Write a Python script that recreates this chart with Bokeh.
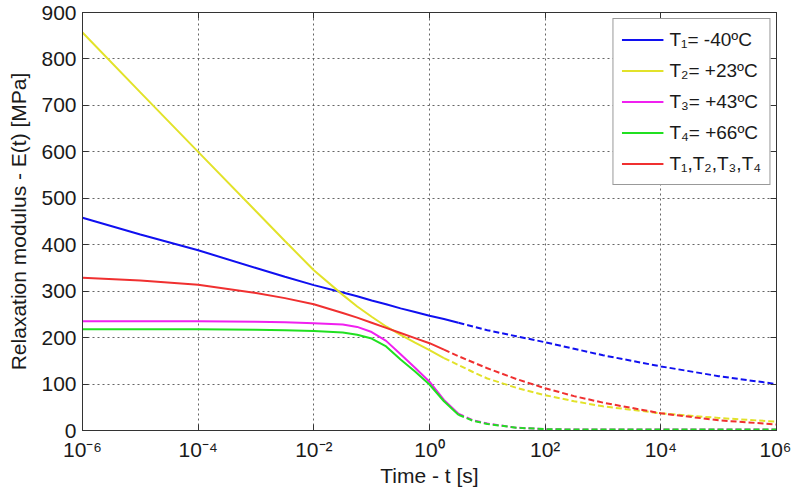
import numpy as np
from bokeh.plotting import figure
from bokeh.models import (LogAxis, LinearAxis, FixedTicker, CustomJSTickFormatter,
                          Legend, LegendItem, Range1d)
from bokeh.embed import file_html
from bokeh.resources import INLINE

# ---- data ----
log_time = [-6, -5, -4, -3, -2.5, -2, -1.5, -1.25, -1, -0.75, -0.5, -0.25, 0,
            0.25, 0.5, 0.75, 1, 1.5, 2, 2.5, 3, 4, 5, 6]
E_T1 = [458, 422, 388, 350, 331, 313, 297, 289, 280, 272, 263, 255, 247,
        240, 232, 224, 216, 203, 190, 176, 162, 138, 117, 100]
E_T2 = [857, 728, 600, 472, 408, 345, 292, 267, 245, 224, 206, 189, 173,
        156, 141, 126, 112, 92, 76, 63, 52, 37, 27, 19]
E_T3 = [235, 235, 235, 234, 233, 231, 228, 223, 212, 193, 164, 135, 105,
        66, 36, 22, 15, 6, 3, 2, 2, 2, 2, 2]
E_T4 = [218, 218, 218, 217, 216, 214, 211, 206, 198, 181, 153, 127, 99,
        63, 34, 21, 14, 6, 3, 2, 2, 2, 2, 2]
E_all = [329, 323, 314, 296, 285, 272, 253, 243, 232, 221, 210, 199, 188,
         174, 160, 147, 134, 111, 91, 74, 60, 37, 22, 13]
series = [E_T1, E_T2, E_T3, E_T4, E_all]
series_labels = ["T\u2081= -40\u00baC", "T\u2082= +23\u00baC", "T\u2083= +43\u00baC",
                 "T\u2084= +66\u00baC", "T\u2081,T\u2082,T\u2083,T\u2084"]
solid_until = [0.5, 0.25, 0.5, 0.5, 0.25]
colors = ["#1010f0", "#e2e22a", "#f020f0", "#20e020", "#f03030"]
y_ticks = [0, 100, 200, 300, 400, 500, 600, 700, 800, 900]
x_ticks = [1e-6, 1e-4, 1e-2, 1e0, 1e2, 1e4, 1e6]

FONT = "Liberation Sans"

p = figure(width=791, height=489, x_axis_type="log",
           x_range=Range1d(1e-6, 1e6), y_range=Range1d(0, 900),
           output_backend="svg", toolbar_location=None,
           min_border_left=82, min_border_right=15, min_border_top=12,
           min_border_bottom=58, background_fill_color="white",
           border_fill_color="white")
p.outline_line_color = "#333333"

fmt = CustomJSTickFormatter(code="""
const sup = {"-":"\\u207b","0":"\\u2070","1":"\\u00b9","2":"\\u00b2","3":"\\u00b3",
             "4":"\\u2074","5":"\\u2075","6":"\\u2076","7":"\\u2077","8":"\\u2078","9":"\\u2079"};
const e = Math.round(Math.log10(tick));
return "10" + String(e).split("").map(c => sup[c]).join("");
""")

xa = p.xaxis[0]
xa.ticker = FixedTicker(ticks=x_ticks)
xa.formatter = fmt
xa.axis_label = "Time - t [s]"
ya = p.yaxis[0]
ya.ticker = FixedTicker(ticks=y_ticks)
ya.axis_label = "Relaxation modulus - E(t) [MPa]"
for ax in (xa, ya):
    ax.major_label_text_font = FONT
    ax.major_label_text_font_size = "21px"
    ax.major_label_text_color = "#1a1a1a"
    ax.axis_label_text_font = FONT
    ax.axis_label_text_font_size = "21px"
    ax.axis_label_text_font_style = "normal"
    ax.axis_label_text_color = "#1a1a1a"
    ax.major_tick_in = 6
    ax.major_tick_out = 0
    ax.minor_tick_in = 0
    ax.minor_tick_out = 0
    ax.axis_line_color = "#333333"
    ax.major_tick_line_color = "#333333"
xa.major_label_standoff = 7
xa.axis_label_standoff = 0
ya.major_label_standoff = 6
ya.axis_label_standoff = 8

blank = CustomJSTickFormatter(code='return "";')
top = LogAxis(ticker=FixedTicker(ticks=x_ticks), formatter=blank,
              major_tick_in=6, major_tick_out=0, minor_tick_in=0, minor_tick_out=0,
              axis_line_color="#333333", major_tick_line_color="#333333",
              major_label_standoff=0)
p.add_layout(top, "above")
right = LinearAxis(ticker=FixedTicker(ticks=y_ticks), formatter=blank,
                   major_tick_in=6, major_tick_out=0, minor_tick_in=0, minor_tick_out=0,
                   axis_line_color="#333333", major_tick_line_color="#333333",
                   major_label_standoff=0)
p.add_layout(right, "right")

for g in (p.xgrid[0], p.ygrid[0]):
    g.grid_line_color = "#555555"
    g.grid_line_dash = "2 3"
    g.grid_line_width = 1
    g.grid_line_alpha = 0.9

items = []
for vals, lab, col, cut in zip(series, series_labels, colors, solid_until):
    t = [10.0 ** e for e in log_time]
    xs_s = [ti for e, ti in zip(log_time, t) if e <= cut]
    ys_s = [v for e, v in zip(log_time, vals) if e <= cut]
    xs_d = [ti for e, ti in zip(log_time, t) if e >= cut]
    ys_d = [v for e, v in zip(log_time, vals) if e >= cut]
    r = p.line(xs_s, ys_s, line_color=col, line_width=2)
    p.line(xs_d, ys_d, line_color=col, line_width=2, line_dash="6 3")
    items.append(LegendItem(label=lab, renderers=[r]))

legend = Legend(items=items, location="top_right")
legend.label_text_font = FONT
legend.label_text_font_size = "19px"
legend.label_text_color = "#1a1a1a"
legend.border_line_color = "#333333"
legend.border_line_width = 1
legend.background_fill_alpha = 1
legend.glyph_width = 42
legend.glyph_height = 25
legend.label_height = 25
legend.spacing = 6
legend.padding = 8
legend.margin = 6
legend.label_standoff = 6
p.add_layout(legend)

open("out.html", "w").write(file_html(p, INLINE))
